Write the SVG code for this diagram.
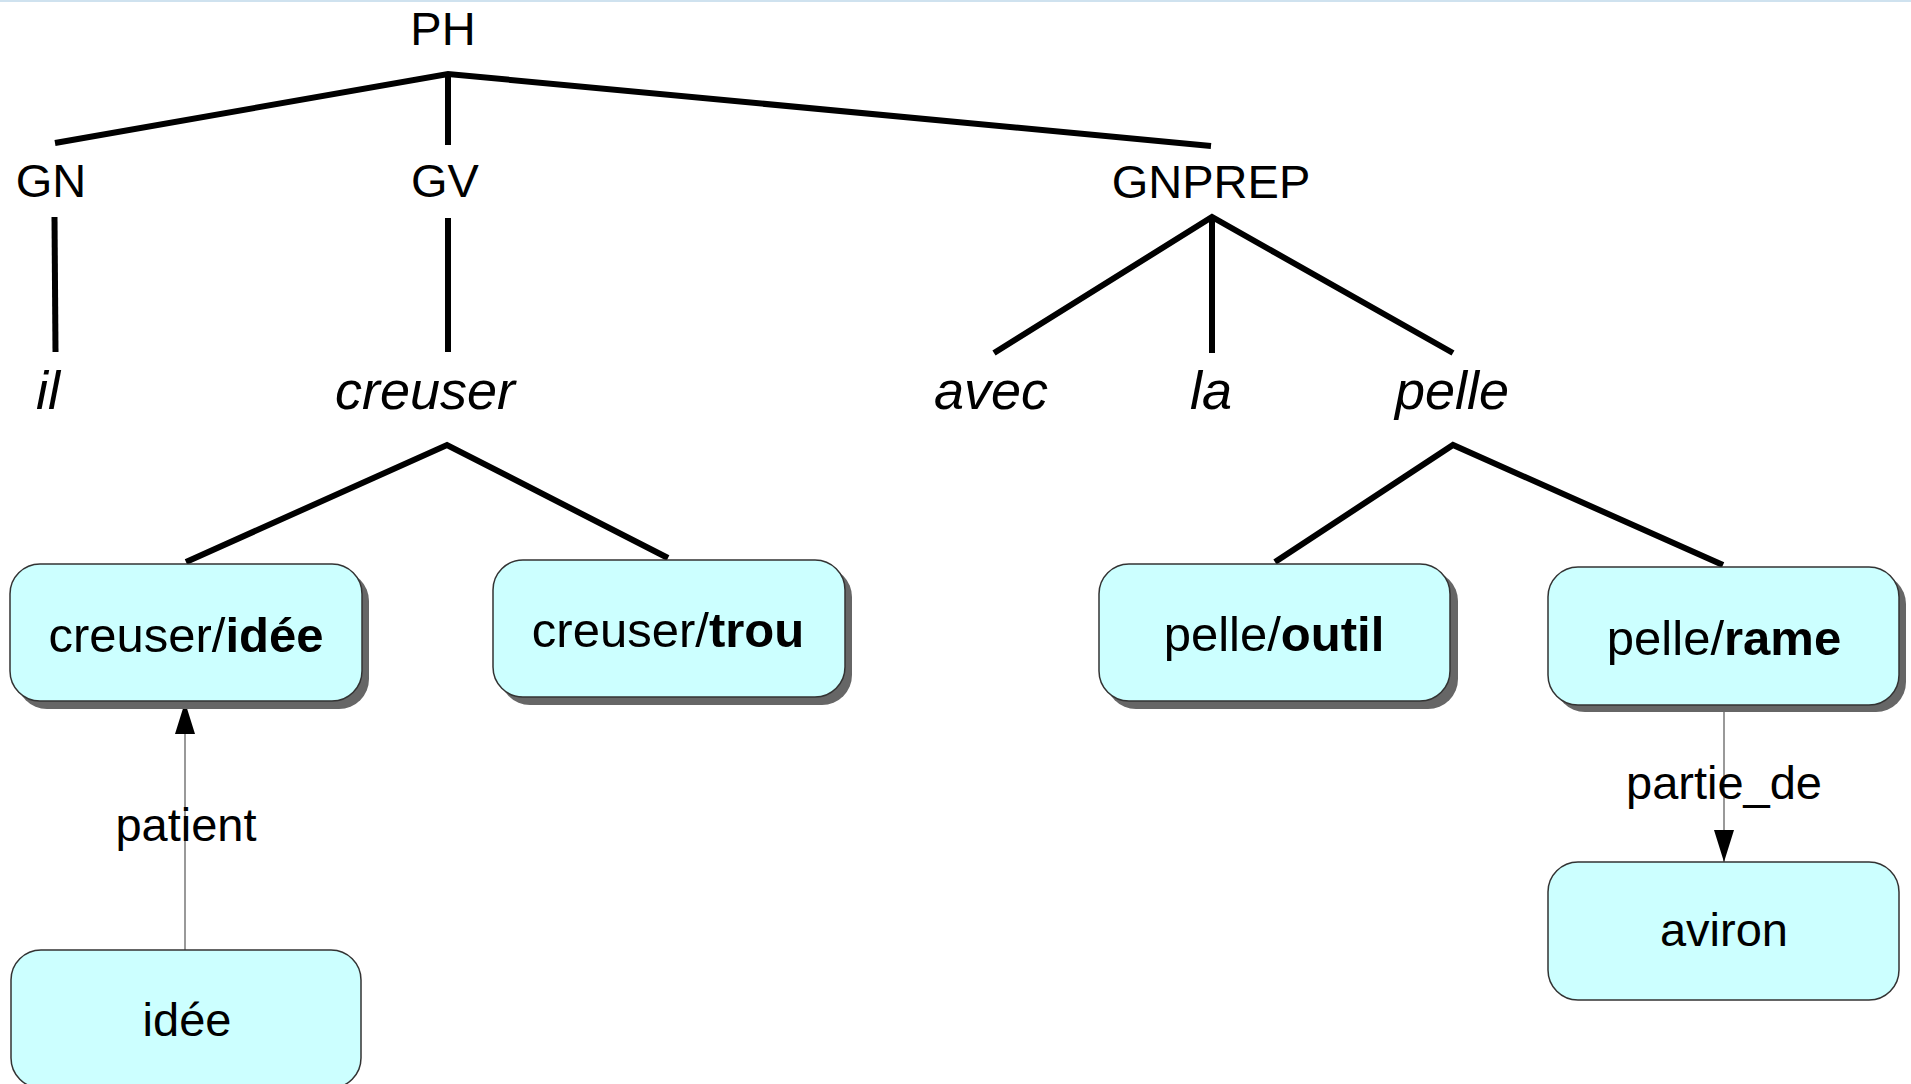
<svg xmlns="http://www.w3.org/2000/svg" width="1911" height="1084" viewBox="0 0 1911 1084">
<defs>
<style>
.tree{stroke:#000;stroke-width:6;fill:none;stroke-linecap:butt}
.lbl{font-family:"Liberation Sans",Arial,sans-serif;font-size:47px;fill:#000;text-anchor:middle}
.word{font-family:"Liberation Sans",Arial,sans-serif;font-size:54px;font-style:italic;fill:#000;text-anchor:middle}
.box{fill:#ccffff;stroke:#333;stroke-width:1.5}
.shadow{fill:#666}
.bt{font-family:"Liberation Sans",Arial,sans-serif;font-size:49px;fill:#000;text-anchor:middle}
.bt2{font-family:"Liberation Sans",Arial,sans-serif;font-size:47px;fill:#000;text-anchor:middle}
.b{font-weight:bold}
.rel{stroke:#555;stroke-width:1.2;fill:none}
.elbl{font-family:"Liberation Sans",Arial,sans-serif;font-size:47px;fill:#000;text-anchor:middle}
</style>
<marker id="arr" viewBox="0 0 32 20" refX="32" refY="10" markerWidth="32" markerHeight="20" markerUnits="userSpaceOnUse" orient="auto">
<path d="M0,0 L32,10 L0,20 Z" fill="#000"/>
</marker>
</defs>
<rect x="0" y="0" width="1911" height="1084" fill="#fff"/>
<rect x="0" y="0" width="1911" height="2" fill="#cfe2ef"/>

<g id="connectors">
<path class="tree" d="M55,143 L448,74 L1211,146"/>
<path class="tree" d="M448,74 L448,145"/>
<path class="tree" d="M54.5,217 L55.5,352"/>
<path class="tree" d="M448,218 L448,352"/>
<path class="tree" d="M994,353 L1212,217 L1453,353"/>
<path class="tree" d="M1212,217 L1212,353"/>
<path class="tree" d="M186,562 L447,445 L668,558"/>
<path class="tree" d="M1275,562 L1453,445 L1723,565"/>
<line class="rel" x1="185" y1="950" x2="185" y2="702" marker-end="url(#arr)"/>
<line class="rel" x1="1724" y1="705" x2="1724" y2="862" marker-end="url(#arr)"/>
<text class="elbl" x="186" y="841">patient</text>
<text class="elbl" x="1724" y="799">partie_de</text>
</g>

<g id="PH"><text class="lbl" x="443" y="45">PH</text></g>
<g id="GN"><text class="lbl" x="51" y="197">GN</text></g>
<g id="GV"><text class="lbl" x="445" y="197">GV</text></g>
<g id="GNPREP"><text class="lbl" x="1211" y="198">GNPREP</text></g>

<g id="il"><text class="word" x="48" y="409">il</text></g>
<g id="creuser"><text class="word" x="425" y="409">creuser</text></g>
<g id="avec"><text class="word" x="991" y="409">avec</text></g>
<g id="la"><text class="word" x="1211" y="409">la</text></g>
<g id="pelle"><text class="word" x="1452" y="409">pelle</text></g>

<g id="creuser-idee">
<rect class="shadow" x="17" y="571" width="352" height="138" rx="30"/>
<rect class="box" x="10" y="564" width="352" height="137" rx="30"/>
<text class="bt" x="186" y="652">creuser/<tspan class="b">idée</tspan></text>
</g>
<g id="creuser-trou">
<rect class="shadow" x="500" y="567" width="352" height="138" rx="30"/>
<rect class="box" x="493" y="560" width="352" height="137" rx="30"/>
<text class="bt" x="668" y="647">creuser/<tspan class="b">trou</tspan></text>
</g>
<g id="pelle-outil">
<rect class="shadow" x="1106" y="571" width="352" height="138" rx="30"/>
<rect class="box" x="1099" y="564" width="351" height="137" rx="30"/>
<text class="bt" x="1274" y="651">pelle/<tspan class="b">outil</tspan></text>
</g>
<g id="pelle-rame">
<rect class="shadow" x="1555" y="574" width="351" height="138" rx="30"/>
<rect class="box" x="1548" y="567" width="351" height="138" rx="30"/>
<text class="bt" x="1724" y="655">pelle/<tspan class="b">rame</tspan></text>
</g>
<g id="idee">
<rect class="box" x="11" y="950" width="350" height="138" rx="30"/>
<text class="bt2" x="187" y="1036">idée</text>
</g>
<g id="aviron">
<rect class="box" x="1548" y="862" width="351" height="138" rx="30"/>
<text class="bt2" x="1724" y="946">aviron</text>
</g>
</svg>
